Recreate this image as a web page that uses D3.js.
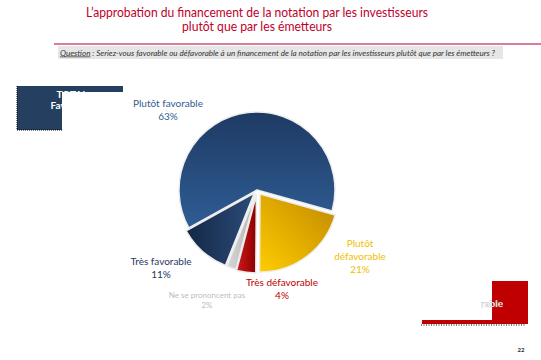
<!DOCTYPE html>
<html><head><meta charset="utf-8">
<script src="https://cdn.jsdelivr.net/npm/d3@7"></script>
<style>body{margin:0;background:#fff}svg{display:block}</style>
</head><body>
<script>
const titleLines = ["L\u2019approbation du financement de la notation par les investisseurs", "plut\u00f4t que par les \u00e9metteurs"];
const questionLabel = "Question";
const questionText = " : Seriez-vous favorable ou d\u00e9favorable \u00e0 un financement de la notation par les investisseurs plut\u00f4t que par les \u00e9metteurs ?";
const categories = ["Plut\u00f4t favorable", "Plut\u00f4t d\u00e9favorable", "Tr\u00e8s d\u00e9favorable", "Ne se prononcent pas", "Tr\u00e8s favorable"];
const values = [63, 21, 4, 2, 11];
const valueLabels = ["63%", "21%", "4%", "2%", "11%"];
const boxLeft = ["TOTAL", "Favorable", "74%"];
const boxRight = ["TOTAL", "D\u00e9favorable", "25%"];
const pageNumber = "22";

const W = 541, H = 360;
const svg = d3.select("body").append("svg").attr("width", W).attr("height", H);
const defs = svg.append("defs");
const font = "Lato, 'Open Sans', sans-serif";

// Title
svg.append("g").selectAll("text").data(titleLines).join("text")
  .attr("x", 257).attr("y", (d, i) => 17 + i * 14)
  .attr("text-anchor", "middle").attr("font-family", font).attr("font-size", 12.5)
  .attr("fill", "#C0002A")
  .attr("textLength", (d, i) => i === 0 ? 342 : 150).attr("lengthAdjust", "spacingAndGlyphs")
  .text(d => d);

svg.append("line").attr("x1", 54).attr("x2", 541).attr("y1", 44).attr("y2", 44)
  .attr("stroke", "#B0002A").attr("stroke-width", 1.2);
svg.append("rect").attr("x", 58).attr("y", 46).attr("width", 445).attr("height", 13).attr("fill", "#E6E6E6");
const q = svg.append("text").attr("x", 60).attr("y", 55.5).attr("font-family", font)
  .attr("font-size", 7.2).attr("font-style", "italic").attr("fill", "#333")
  .attr("textLength", 435).attr("lengthAdjust", "spacingAndGlyphs");
q.append("tspan").attr("text-decoration", "underline").text(questionLabel);
q.append("tspan").text(questionText);

// Left blue box (partially hidden)
const lb = svg.append("g");
lb.append("rect").attr("x", 17).attr("y", 86).attr("width", 106).attr("height", 44).attr("fill", "#243F60");
lb.selectAll("text").data(boxLeft).join("text")
  .attr("x", 72).attr("y", (d, i) => 98 + i * 11).attr("text-anchor", "middle")
  .attr("font-family", font).attr("font-weight", "bold").attr("font-size", 10).attr("fill", "#fff").text(d => d);
lb.append("rect").attr("x", 62).attr("y", 92).attr("width", 62).attr("height", 40).attr("fill", "#fff");
lb.append("path").attr("d", "M17,86 V130 H62").attr("fill", "none").attr("stroke", "#000")
  .attr("stroke-width", 1).attr("stroke-dasharray", "1,1");

// Right red box (partially hidden)
const rb = svg.append("g");
rb.append("rect").attr("x", 422).attr("y", 281).attr("width", 106).attr("height", 43).attr("fill", "#C00000");
rb.append("rect").attr("x", 422).attr("y", 281).attr("width", 70).attr("height", 39).attr("fill", "#fff");
defs.append("clipPath").attr("id", "rclip").append("rect").attr("x", 481).attr("y", 281).attr("width", 60).attr("height", 40);
rb.append("text").attr("clip-path", "url(#rclip)").attr("x", 503).attr("y", 307).attr("text-anchor", "end")
  .attr("font-family", font).attr("font-weight", "bold").attr("font-size", 10).attr("fill", "#fff")
  .attr("stroke", "#999").attr("stroke-width", 0.25).text(boxRight[1]);
rb.append("path").attr("d", "M421,325 H525").attr("fill", "none").attr("stroke", "#000")
  .attr("stroke-width", 1).attr("stroke-dasharray", "1,1.5");

// Pie
const cx = 257, cy = 190, R = 78;
const grads = [
  ["#1E3A63", "#2F5D95", 0, 0, 0, 1],
  ["#FFCC00", "#C08800", 0, 1, 1, 0],
  ["#D21818", "#8A0000", 0, 0, 1, 0],
  ["#D8D8D8", "#B0B0B0", 0, 0, 1, 0],
  ["#142845", "#2B4B7A", 0, 0, 1, 0]
];
grads.forEach((g, i) => {
  const lg = defs.append("linearGradient").attr("id", "g" + i)
    .attr("x1", g[2]).attr("y1", g[3]).attr("x2", g[4]).attr("y2", g[5]);
  lg.append("stop").attr("offset", 0).attr("stop-color", g[0]);
  lg.append("stop").attr("offset", 1).attr("stop-color", g[1]);
});
const start = 241 * Math.PI / 180;
const pie = d3.pie().sort(null).startAngle(start).endAngle(start + 2 * Math.PI);
const arcs = pie(values);
const arc = d3.arc().innerRadius(0).outerRadius(R);
const explode = [0, 5, 5, 4, 4];
svg.append("g").attr("transform", `translate(${cx},${cy})`)
  .selectAll("path").data(arcs).join("path")
  .attr("transform", (d, i) => {
    const a = (d.startAngle + d.endAngle) / 2;
    return `translate(${Math.sin(a) * explode[i]},${-Math.cos(a) * explode[i]})`;
  })
  .attr("d", arc).attr("fill", (d, i) => `url(#g${i})`)
  .attr("stroke", "#EDEDED").attr("stroke-width", 1.5).attr("stroke-linejoin", "round");

// Labels
const labelPos = [
  { x: 168, y: 107, c: "#2F5C94", s: 10, lines: [categories[0], valueLabels[0]] },
  { x: 360, y: 247, c: "#F0C000", s: 10, lines: ["Plut\u00f4t", "d\u00e9favorable", valueLabels[1]] },
  { x: 282, y: 286, c: "#C00000", s: 10, lines: [categories[2], valueLabels[2]] },
  { x: 207, y: 298, c: "#BDBDBD", s: 8, lines: [categories[3], valueLabels[3]] },
  { x: 161, y: 265, c: "#1F3864", s: 10, lines: [categories[4], valueLabels[4]] }
];
labelPos.forEach(p => {
  svg.append("text").attr("x", p.x).attr("y", p.y).attr("text-anchor", "middle")
    .attr("font-family", font).attr("font-size", p.s).attr("fill", p.c)
    .selectAll("tspan").data(p.lines).join("tspan")
    .attr("x", p.x).attr("dy", (d, i) => i === 0 ? 0 : (p.s === 8 ? 9.5 : 13)).text(d => d);
});

svg.append("text").attr("x", 521).attr("y", 352).attr("text-anchor", "middle")
  .attr("font-family", font).attr("font-size", 6).attr("font-weight", "bold").attr("fill", "#333").text(pageNumber);
</script>
</body></html>
